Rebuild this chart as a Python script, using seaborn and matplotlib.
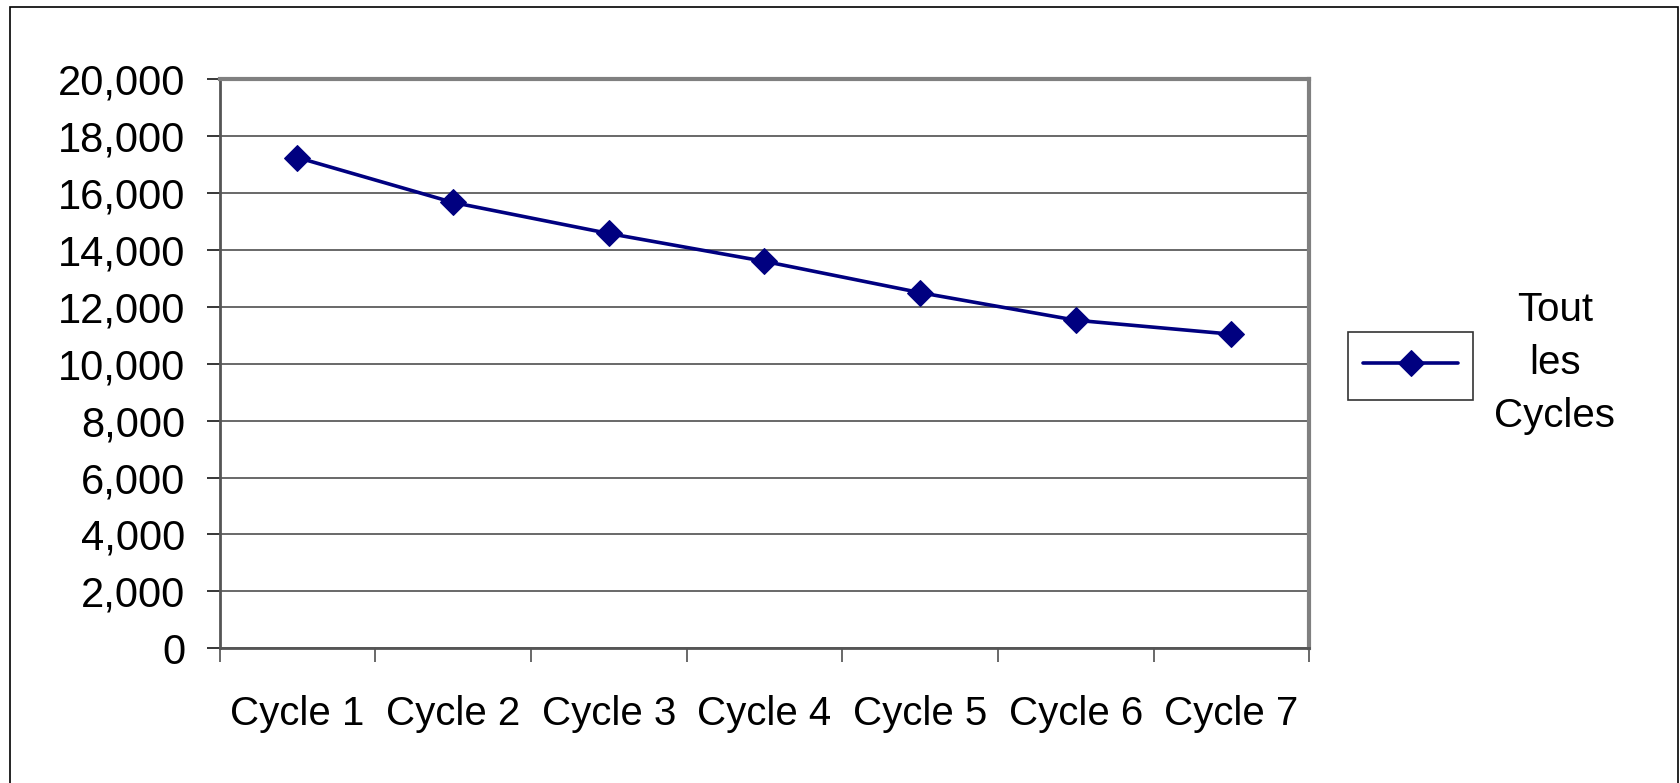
import matplotlib
matplotlib.use("Agg")
import matplotlib.pyplot as plt
import matplotlib.ticker as mticker
from matplotlib.patches import Rectangle
import seaborn as sns

# DATA
cycles = ["Cycle 1", "Cycle 2", "Cycle 3", "Cycle 4", "Cycle 5", "Cycle 6", "Cycle 7"]
values = [17250, 15670, 14580, 13600, 12500, 11530, 11040]
series_label = "Tout les Cycles"

sns.set_style("white")
plt.rcParams["font.family"] = ["Liberation Sans", "DejaVu Sans"]
plt.rcParams["text.color"] = "black"

fig = plt.figure(figsize=(16.8, 7.83), dpi=100)
ax = fig.add_axes([0.1307, 0.1722, 0.7793 - 0.1307, 0.8987 - 0.1722])

navy = "#000080"
sns.lineplot(x=cycles, y=values, ax=ax, color=navy, linewidth=2.6,
             marker="D", markersize=13, markeredgecolor=navy, sort=False)

# y axis
ax.set_ylim(0, 20000)
ax.set_yticks(range(0, 20001, 2000))
ax.yaxis.set_major_formatter(mticker.FuncFormatter(lambda v, p: f"{int(v):,}"))
ax.yaxis.grid(True, color="#404040", linewidth=1.1)
ax.set_axisbelow(True)

# x axis: categories in the middle, tick marks on the boundaries
ax.set_xlim(-0.5, len(cycles) - 0.5)
ax.set_xticks(range(len(cycles)))
ax.set_xticklabels(cycles)
ax.set_xticks([i - 0.5 for i in range(len(cycles) + 1)], minor=True)
ax.tick_params(axis="x", which="major", bottom=True, length=0, pad=34,
               labelsize=29, labelcolor="black")
ax.tick_params(axis="x", which="minor", bottom=True, length=10, width=1.1,
               color="#404040", direction="out")
ax.tick_params(axis="y", which="major", left=True, length=9.5, width=1.1,
               color="black", direction="out", pad=15, labelsize=30,
               labelcolor="black")
ax.set_xlabel("")
ax.set_ylabel("")

for side, col, lw in [("left", "#555555", 2.0), ("bottom", "#555555", 2.0),
                      ("top", "#808080", 3.0), ("right", "#808080", 3.0)]:
    ax.spines[side].set_visible(True)
    ax.spines[side].set_color(col)
    ax.spines[side].set_linewidth(lw)

# legend box with the marker sample, label text written beside it
handle = ax.get_lines()[0]
leg = fig.legend([handle], [""], loc="center left",
                 bbox_to_anchor=(1348 / 1680, 1 - 366 / 783),
                 frameon=True, fancybox=False, fontsize=29,
                 handlelength=2.35, handletextpad=0.0, borderpad=0.38,
                 borderaxespad=0)
leg.get_frame().set_edgecolor("black")
leg.get_frame().set_linewidth(1.2)
fig.text(1555 / 1680, 1 - 363 / 783, "Tout\nles\nCycles",
         ha="center", va="center", fontsize=29, linespacing=1.5)

# outer chart border
fig.add_artist(Rectangle((10 / 1680, -0.02), 1668 / 1680, 1.02 - 7 / 783,
                         transform=fig.transFigure, fill=False,
                         edgecolor="black", linewidth=1.2))

fig.savefig("out.png", dpi=100, facecolor="white")
